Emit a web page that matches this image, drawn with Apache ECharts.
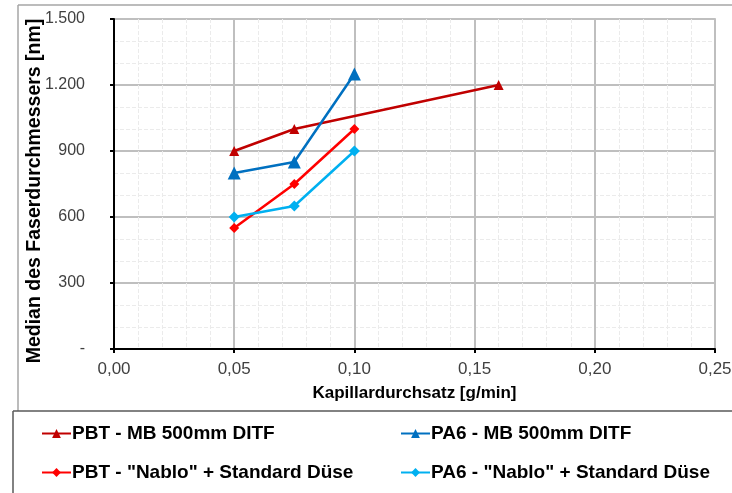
<!DOCTYPE html>
<html>
<head>
<meta charset="utf-8">
<script src="https://cdn.jsdelivr.net/npm/echarts@6/dist/echarts.min.js"></script>
<style>
  html, body { margin: 0; padding: 0; background: #fff; }
  #chart { width: 732px; height: 493px; }
</style>
</head>
<body>
<div id="chart"></div>
<script>
// Median fibre diameter vs. capillary throughput
const seriesNames = [
  'PBT - MB 500mm DITF',
  'PA6 - MB 500mm DITF',
  'PBT - "Nablo" + Standard Düse',
  'PA6 - "Nablo" + Standard Düse'
];
const pbtMbX = [0.05, 0.075, 0.16];
const pbtMbY = [900, 1000, 1200];
const pa6MbX = [0.05, 0.075, 0.10];
const pa6MbY = [800, 850, 1250];
const pbtNabloX = [0.05, 0.075, 0.10];
const pbtNabloY = [550, 750, 1000];
const pa6NabloX = [0.05, 0.075, 0.10];
const pa6NabloY = [600, 650, 900];
const xTicks = [0, 0.05, 0.10, 0.15, 0.20, 0.25];
const yTicks = [0, 300, 600, 900, 1200, 1500];

const FONT = '"Liberation Sans", Arial, sans-serif';
const zip = (xs, ys) => xs.map((x, i) => [x, ys[i]]);

function lineSeries(name, xs, ys, color, symbol, size) {
  return {
    name, type: 'line', data: zip(xs, ys),
    symbol, symbolSize: size,
    lineStyle: { color, width: 2.5 },
    itemStyle: { color },
    z: 5
  };
}

// one legend block per entry, laid out as a 2x2 table
function legendEntry(name, left, top) {
  return {
    data: [name], left, top, padding: 0,
    itemWidth: 29, itemHeight: 11,
    textStyle: { fontFamily: FONT, fontSize: 19, fontWeight: 'bold', color: '#000', padding: [0, 0, 0, -4] }
  };
}

const chart = echarts.init(document.getElementById('chart'), null, { renderer: 'canvas' });

const fmtY = v => v === 0 ? '-' : String(v).replace(/\B(?=(\d{3})+(?!\d))/g, '.');
const fmtX = v => v.toFixed(2).replace('.', ',');

chart.setOption({
  animation: false,
  backgroundColor: '#ffffff',
  graphic: [
    // outer frame and legend separator
    { type: 'line', shape: { x1: 18, y1: 5, x2: 732, y2: 5 }, style: { stroke: '#a6a6a6', lineWidth: 1.5 } },
    { type: 'line', shape: { x1: 18, y1: 5, x2: 18, y2: 411 }, style: { stroke: '#a6a6a6', lineWidth: 1.5 } },
    { type: 'line', shape: { x1: 13, y1: 411, x2: 732, y2: 411 }, style: { stroke: '#595959', lineWidth: 1.5 } },
    { type: 'line', shape: { x1: 13, y1: 411, x2: 13, y2: 493 }, style: { stroke: '#595959', lineWidth: 1.5 } }
  ],
  grid: {
    left: 114, right: 17, top: 19, bottom: 144,
    outerBoundsMode: 'none',
    show: true, borderColor: '#a6a6a6', borderWidth: 1.5
  },
  legend: [
    legendEntry(seriesNames[0], 41, 424),
    legendEntry(seriesNames[1], 400, 424),
    legendEntry(seriesNames[2], 41, 463),
    legendEntry(seriesNames[3], 400, 463)
  ],
  xAxis: {
    type: 'value', min: 0, max: 0.25, interval: 0.05,
    name: 'Kapillardurchsatz [g/min]', nameLocation: 'middle', nameGap: 36,
    nameMoveOverlap: false,
    nameTextStyle: { fontFamily: FONT, fontSize: 17, fontWeight: 'bold', color: '#000' },
    axisLine: { show: true, onZero: false, lineStyle: { color: '#000', width: 2 } },
    axisTick: { show: true, inside: false, length: 4, lineStyle: { color: '#000', width: 2 } },
    axisLabel: { fontFamily: FONT, fontSize: 17, color: '#404040', margin: 12, formatter: fmtX },
    splitLine: { show: true, lineStyle: { color: '#bfbfbf', width: 2 } },
    minorTick: { show: false, splitNumber: 5 },
    minorSplitLine: { show: true, lineStyle: { color: '#ebebeb', width: 1, type: [4, 2] } }
  },
  yAxis: {
    type: 'value', min: 0, max: 1500, interval: 300,
    name: 'Median des Faserdurchmessers [nm]', nameLocation: 'middle', nameGap: 69,
    nameMoveOverlap: false,
    nameTextStyle: { fontFamily: FONT, fontSize: 19.5, fontWeight: 'bold', color: '#000', padding: [0, 14, 0, 0] },
    axisLine: { show: true, lineStyle: { color: '#000', width: 2 } },
    axisTick: { show: true, inside: false, length: 4, lineStyle: { color: '#000', width: 2 } },
    axisLabel: { fontFamily: FONT, fontSize: 16, color: '#404040', margin: 29, formatter: fmtY },
    splitLine: { show: true, lineStyle: { color: '#bfbfbf', width: 2 } },
    minorTick: { show: false, splitNumber: 3 },
    minorSplitLine: { show: true, lineStyle: { color: '#ebebeb', width: 1, type: [4, 2] } }
  },
  series: [
    lineSeries(seriesNames[0], pbtMbX, pbtMbY, '#c00000', 'triangle', 10),
    lineSeries(seriesNames[1], pa6MbX, pa6MbY, '#0070c0', 'triangle', 13),
    lineSeries(seriesNames[2], pbtNabloX, pbtNabloY, '#ff0000', 'diamond', 10),
    lineSeries(seriesNames[3], pa6NabloX, pa6NabloY, '#00b0f0', 'diamond', 11)
  ]
});
</script>
</body>
</html>
